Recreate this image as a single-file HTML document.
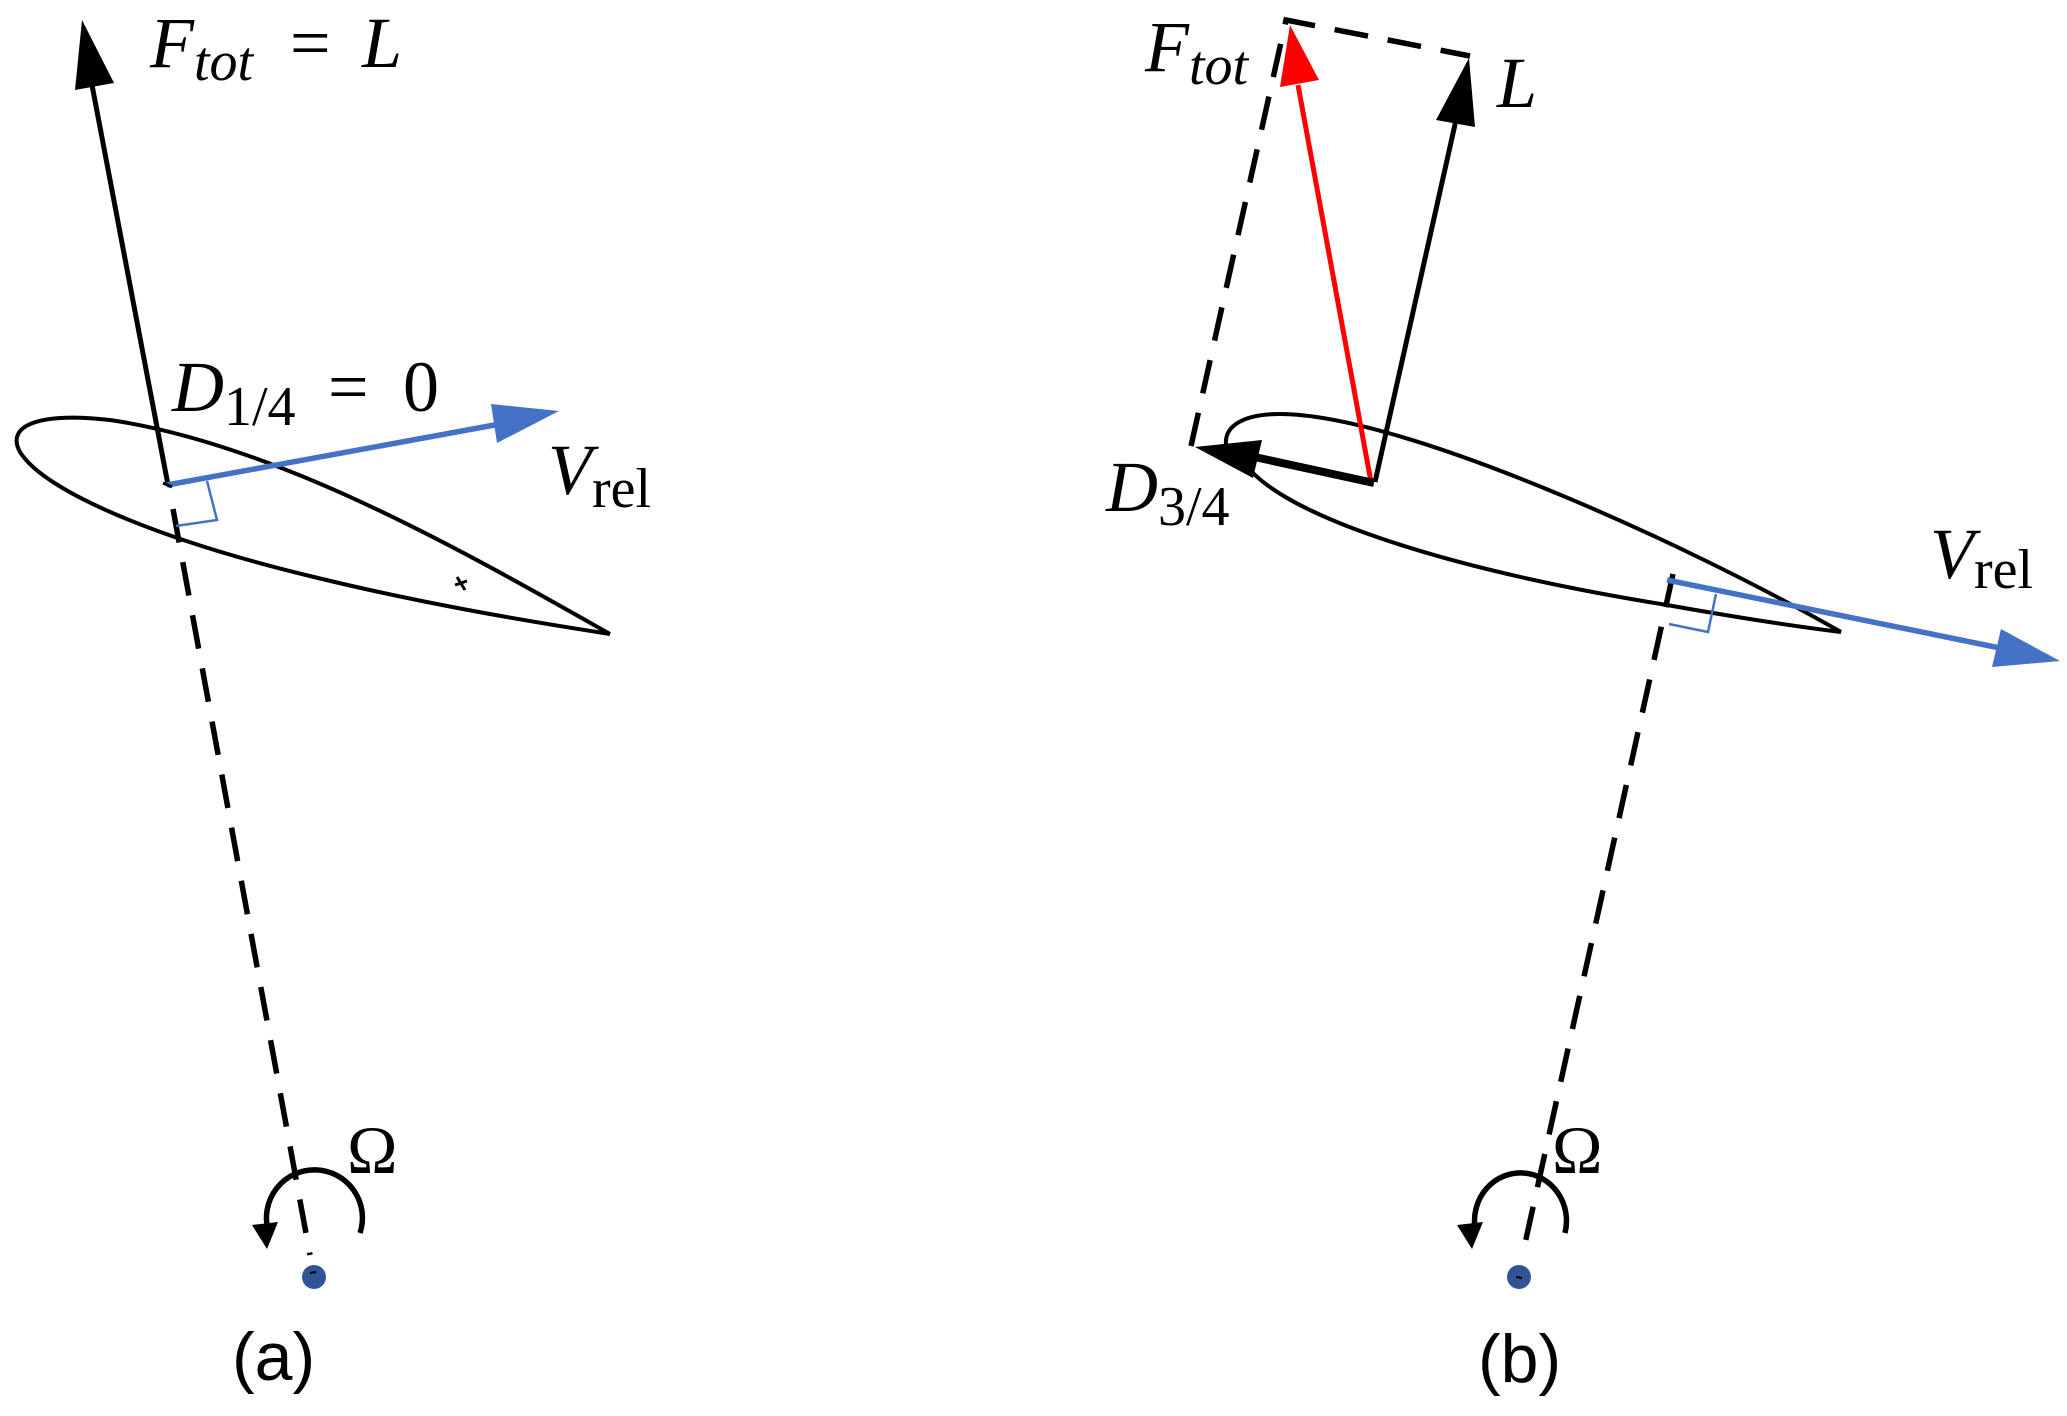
<!DOCTYPE html>
<html><head><meta charset="utf-8"><style>
html,body{margin:0;padding:0;background:#fff;}
svg{display:block;}
.m{font-family:"Liberation Serif",serif;font-style:italic;}
.r{font-family:"Liberation Serif",serif;}
.s{font-family:"Liberation Sans",sans-serif;}
</style></head><body>
<svg width="2067" height="1416" viewBox="0 0 2067 1416" xmlns="http://www.w3.org/2000/svg">
<rect width="2067" height="1416" fill="#fff"/>
<!-- (a) -->
<path d="M610,634 C470,555 280,445 110,420 C40,412 5,425 20,452 C45,492 160,540 314,577 C420,603 520,620 610,634" fill="none" stroke="#000" stroke-width="4"/>
<line x1="173" y1="509" x2="310" y2="1255" stroke="#000" stroke-width="5.5" stroke-dasharray="34,20"/>
<line x1="168" y1="485" x2="92" y2="85" stroke="#000" stroke-width="5"/>
<polygon points="82,20 75,90 114,83" fill="#000"/>
<line x1="167" y1="485" x2="500" y2="424" stroke="#4472c4" stroke-width="5.5"/>
<polygon points="559,411 491,404 497,443" fill="#4472c4"/>
<polyline points="207,481 217,520 176,526" fill="none" stroke="#4472c4" stroke-width="2.5"/>
<path d="M163,483 L172,487 M457,577 L465,590 M455,585 L467,581" stroke="#000" stroke-width="3"/>
<text x="150" y="67" class="m" font-size="72">F<tspan font-size="56" dy="13">tot</tspan></text>
<text x="290" y="67" class="r" font-size="72">=</text>
<text x="362" y="67" class="m" font-size="72">L</text>
<text x="172" y="411" class="m" font-size="72">D<tspan class="r" font-style="normal" font-size="56" dy="14">1/4</tspan></text>
<text x="328" y="411" class="r" font-size="72">=</text>
<text x="403" y="411" class="r" font-size="72">0</text>
<text x="548" y="494" class="m" font-size="72">V<tspan class="r" font-style="normal" font-size="56" dy="13">rel</tspan></text>
<circle cx="314" cy="1277" r="12" fill="#2f5597"/>
<line x1="310" y1="1273" x2="316" y2="1272" stroke="#000" stroke-width="2"/>
<path d="M360,1233 A48,48 0 1 0 268,1230" fill="none" stroke="#000" stroke-width="5.5"/>
<polygon points="267,1249 252,1225 278,1222" fill="#000"/>
<text x="347" y="1173" class="r" font-size="68">Ω</text>
<text x="232" y="1380" class="s" font-size="68">(a)</text>
<!-- (b) -->
<path d="M1226,445 C1224,425 1245,414 1280,414 C1400,414 1680,540 1841,632" fill="none" stroke="#000" stroke-width="4"/>
<path d="M1253,473 C1300,520 1450,570 1667,605 C1740,618 1800,627 1841,632" fill="none" stroke="#000" stroke-width="4"/>
<polyline points="1191,446 1286,20 1470,56" fill="none" stroke="#000" stroke-width="5.5" stroke-dasharray="34,20"/>
<line x1="1371" y1="482" x2="1298" y2="85" stroke="#ff0000" stroke-width="5"/>
<polygon points="1290,25 1280,87 1319,80" fill="#ff0000"/>
<line x1="1375" y1="482" x2="1456" y2="120" stroke="#000" stroke-width="5"/>
<polygon points="1469,58 1436,120 1475,127" fill="#000"/>
<line x1="1374" y1="483" x2="1250" y2="456" stroke="#000" stroke-width="8"/>
<polygon points="1195,447 1262,440 1253,478" fill="#000"/>
<line x1="1673" y1="574" x2="1522" y2="1257" stroke="#000" stroke-width="5.5" stroke-dasharray="34,20"/>
<line x1="1667" y1="580" x2="2000" y2="648" stroke="#4472c4" stroke-width="5.5"/>
<polygon points="2060,661 2001,629 1992,667" fill="#4472c4"/>
<polyline points="1716,594 1708,632 1669,624" fill="none" stroke="#4472c4" stroke-width="2.5"/>
<text x="1145" y="71" class="m" font-size="72">F<tspan font-size="56" dy="13">tot</tspan></text>
<text x="1497" y="107" class="m" font-size="72">L</text>
<text x="1106" y="511" class="m" font-size="72">D<tspan class="r" font-style="normal" font-size="56" dy="14">3/4</tspan></text>
<text x="1930" y="578" class="m" font-size="72">V<tspan class="r" font-style="normal" font-size="56" dy="10">rel</tspan></text>
<circle cx="1519" cy="1277" r="12" fill="#2f5597"/>
<line x1="1516" y1="1277" x2="1522" y2="1278" stroke="#000" stroke-width="2"/>
<path d="M1565,1233 A46,48 0 1 0 1475,1228" fill="none" stroke="#000" stroke-width="5.5"/>
<polygon points="1472,1249 1457,1225 1483,1222" fill="#000"/>
<text x="1552" y="1173" class="r" font-size="68">Ω</text>
<text x="1478" y="1382" class="s" font-size="68">(b)</text>
</svg>
</body></html>
